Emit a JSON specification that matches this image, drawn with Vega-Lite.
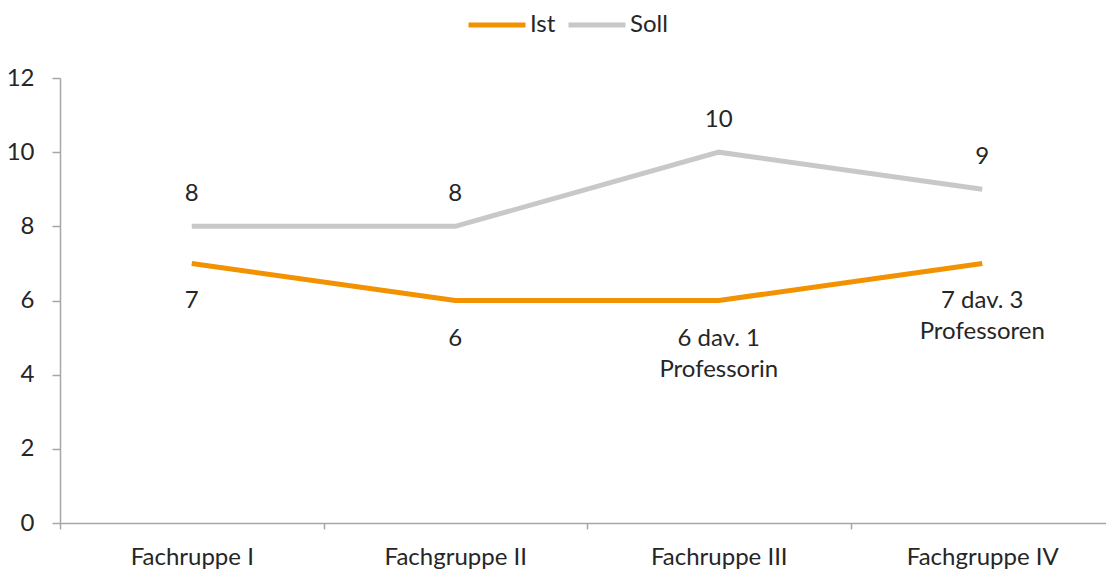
{
  "$schema": "https://vega.github.io/schema/vega-lite/v6.json",
  "autosize": {"type": "none"},
  "width": 1046,
  "height": 445,
  "padding": {"left": 60, "top": 78, "right": 0, "bottom": 49},
  "background": "white",
  "config": {
    "view": {"stroke": null},
    "font": "Lato",
    "axis": {"labelFont": "Lato", "labelFontSize": 24, "labelColor": "#262626", "domainColor": "#A6A6A6", "tickColor": "#A6A6A6", "domainWidth": 1.5, "tickWidth": 1.5, "grid": false, "title": null},
    "legend": {"labelFont": "Lato", "labelFontSize": 24, "labelColor": "#262626"}
  },
  "data": {
    "values": [
      {"gruppe": "Fachruppe I", "reihe": "Ist", "wert": 7, "label": ["7"]},
      {"gruppe": "Fachgruppe II", "reihe": "Ist", "wert": 6, "label": ["6"]},
      {"gruppe": "Fachruppe III", "reihe": "Ist", "wert": 6, "label": ["6 dav. 1", "Professorin"]},
      {"gruppe": "Fachgruppe IV", "reihe": "Ist", "wert": 7, "label": ["7 dav. 3", "Professoren"]},
      {"gruppe": "Fachruppe I", "reihe": "Soll", "wert": 8, "label": ["8"]},
      {"gruppe": "Fachgruppe II", "reihe": "Soll", "wert": 8, "label": ["8"]},
      {"gruppe": "Fachruppe III", "reihe": "Soll", "wert": 10, "label": ["10"]},
      {"gruppe": "Fachgruppe IV", "reihe": "Soll", "wert": 9, "label": ["9"]}
    ]
  },
  "encoding": {
    "x": {
      "field": "gruppe", "type": "nominal", "sort": null,
      "scale": {"type": "band", "paddingInner": 0, "paddingOuter": 0, "range": [0, 1054]},
      "axis": {"labelAngle": 0, "tickBand": "extent", "tickSize": 6, "labelPadding": 16}
    },
    "y": {
      "field": "wert", "type": "quantitative",
      "scale": {"domain": [0, 12], "nice": false, "zero": true},
      "axis": {"values": [0, 2, 4, 6, 8, 10, 12], "tickSize": 8, "labelPadding": 18}
    }
  },
  "layer": [
    {
      "mark": {"type": "line", "strokeWidth": 5, "strokeCap": "butt", "strokeJoin": "miter"},
      "encoding": {
        "color": {
          "field": "reihe", "type": "nominal",
          "scale": {"domain": ["Ist", "Soll"], "range": ["#F39200", "#C8C8C8"]},
          "legend": {"orient": "none", "legendX": 406, "legendY": -84, "direction": "horizontal", "title": null, "symbolType": "stroke", "symbolSize": 3249, "symbolStrokeWidth": 5, "labelOffset": 2, "columnPadding": 2}
        }
      }
    },
    {
      "transform": [{"filter": "datum.reihe === 'Soll'"}],
      "mark": {"type": "text", "fontSize": 24, "color": "#262626", "baseline": "alphabetic", "dy": -25, "lineHeight": 31},
      "encoding": {"text": {"field": "label", "type": "nominal"}}
    },
    {
      "transform": [{"filter": "datum.reihe === 'Ist'"}],
      "mark": {"type": "text", "fontSize": 24, "color": "#262626", "baseline": "alphabetic", "dy": 45, "lineHeight": 31},
      "encoding": {"text": {"field": "label", "type": "nominal"}}
    }
  ]
}
